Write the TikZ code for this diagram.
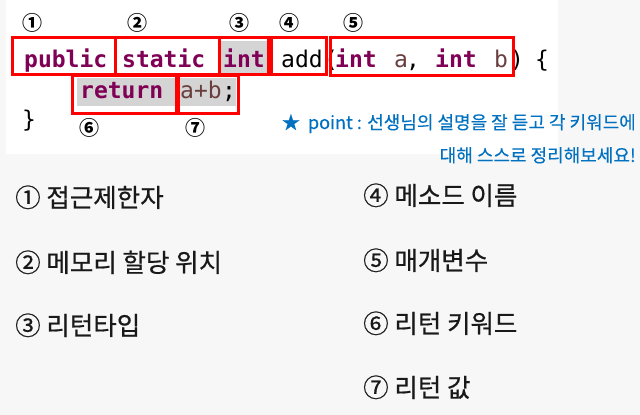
\documentclass[tikz,border=0pt]{standalone}
\usepackage{fontspec}
\newfontfamily\codefont{DejaVu Sans Mono}
\newfontfamily\kr{Noto Sans CJK KR}
\newfontfamily\krm{Noto Sans CJK KR}[FakeBold=0.6]
\newfontfamily\krp{Noto Sans CJK KR}[FakeBold=0.25]
\definecolor{bgc}{HTML}{F7F7F7}
\definecolor{kwc}{HTML}{7F0055}
\definecolor{varc}{HTML}{6A3E3E}
\definecolor{hlc}{HTML}{D4D4D4}
\definecolor{ptc}{HTML}{0070C0}
\tikzset{
  kw/.style={font=\codefont\bfseries\fontsize{23}{23}\selectfont, text=kwc, inner sep=0pt, anchor=base west},
  plain/.style={font=\codefont\fontsize{23}{23}\selectfont, text=black, inner sep=0pt, anchor=base west},
  var/.style={font=\codefont\fontsize{23}{23}\selectfont, text=varc, inner sep=0pt, anchor=base west},
  num/.style={font=\kr\bfseries\fontsize{20}{20}\selectfont, inner sep=0pt, anchor=base},
  redbox/.style={draw=red, line width=3pt},
  hl/.style={fill=hlc},
  pt/.style={font=\krp\fontsize{18}{18}\selectfont, text=ptc, inner sep=0pt, anchor=base east},
  item/.style={font=\krm\fontsize{25.5}{25.5}\selectfont, text=black!90, inner sep=0pt, anchor=base west}
}
\begin{document}
\begin{tikzpicture}[x=1pt,y=-1pt]
\useasboundingbox (0,0) rectangle (640,415);
\fill[bgc] (0,0) rectangle (640,415);
\fill[white] (6,0) rectangle (558,154);
% highlights
\fill[hl] (221,41) rectangle (267,73);
\fill[hl] (77,78) rectangle (176,106);
\fill[hl] (179,78) rectangle (236,106);
% code line 1
\node[kw] (pub) at (24,67) {public};
\node[kw] (sta) at (122,67) {static};
\node[kw] (int1) at (223,67) {int};
\node[plain] (add) at (281,67) {add};
\node[plain] (lp) at (324,67) {(};
\node[kw] (int2) at (335,67) {int};
\node[var] (va) at (394,67) {a};
\node[plain] (cm) at (406,67) {,};
\node[kw] (int3) at (435,67) {int};
\node[var] (vb) at (494,67) {b};
\node[plain] (rp) at (510,67) {)};
\node[plain] (lb) at (535,67) {\{};
% code line 2
\node[kw] (ret) at (80,98) {return};
\node[var] (expr) at (180,98) {a+b};
\node[plain] (semi) at (222,98) {;};
\node[plain] (rb) at (22,127) {\}};
% red boxes
\draw[redbox] (12,37) rectangle (115,74);
\draw[redbox] (115,37) rectangle (219,74);
\draw[redbox] (219,37) rectangle (268,74);
\draw[redbox] (271,37) rectangle (326,74);
\draw[redbox] (330,37) rectangle (513,75);
\draw[redbox] (72,75) rectangle (176,113);
\draw[redbox] (178,75) rectangle (238,113);
% circled numbers
\node[num] (n1) at (33,30.5) {①};
\node[num] (n2) at (137,30.5) {②};
\node[num] (n3) at (239,30.5) {③};
\node[num] (n4) at (289,30.5) {④};
\node[num] (n5) at (353,30.5) {⑤};
\node[num] (n6) at (89,135.5) {⑥};
\node[num] (n7) at (195,135.5) {⑦};
% point text
\node[pt] (p1) at (636,129) {★\hspace{0.45em}point : 선생님의 설명을 잘 듣고 각 키워드에};
\node[pt] (p2) at (636,162) {대해 스스로 정리해보세요!};
% list
\node[item] (i1) at (15,207) {① 접근제한자};
\node[item] (i2) at (15,272) {② 메모리 할당 위치};
\node[item] (i3) at (15,335) {③ 리턴타입};
\node[item] (i4) at (363,205) {④ 메소드 이름};
\node[item] (i5) at (363,270) {⑤ 매개변수};
\node[item] (i6) at (363,333) {⑥ 리턴 키워드};
\node[item] (i7) at (363,397) {⑦ 리턴 값};
\end{tikzpicture}
\end{document}
